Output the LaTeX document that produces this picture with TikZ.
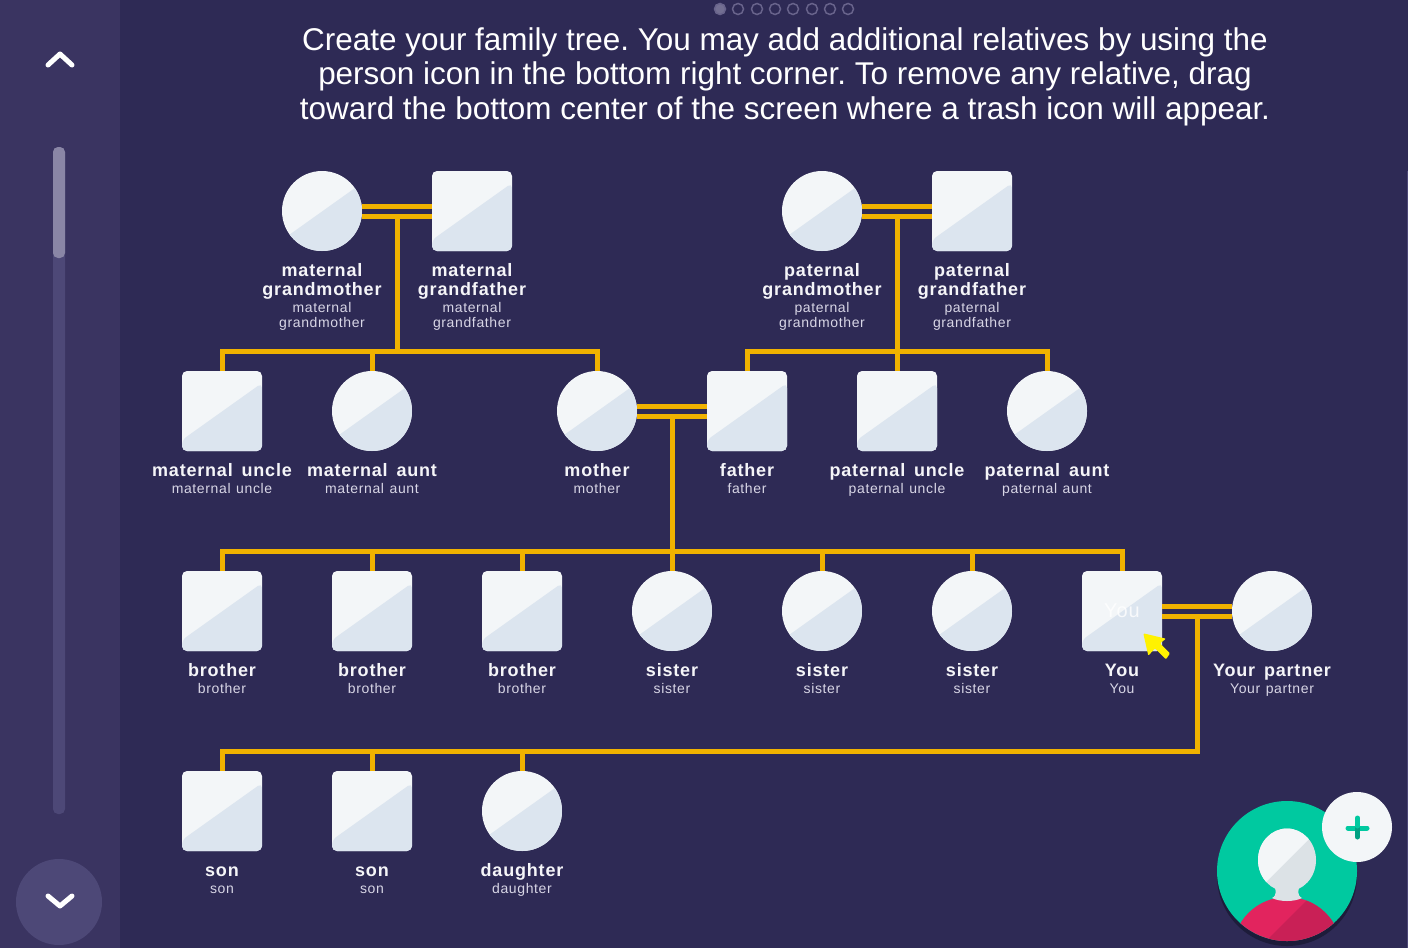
\documentclass[tikz,border=0pt]{standalone}
\usepackage{xcolor}
\usepackage{fontspec}
\usepackage{tikz}
\usetikzlibrary{positioning, calc}
\setmainfont{Liberation Sans}
\newfontfamily\labfamily[LetterSpace=4.5]{Liberation Sans}
\definecolor{pagebg}{RGB}{46, 42, 85}
\definecolor{sidebg}{RGB}{58, 52, 97}
\definecolor{scrolltrack}{RGB}{77, 72, 119}
\definecolor{scrollthumb}{RGB}{138, 134, 166}
\definecolor{linegold}{RGB}{240, 178, 0}
\definecolor{cardlight}{RGB}{243, 246, 248}
\definecolor{carddark}{RGB}{220, 229, 239}
\definecolor{labname}{RGB}{245, 245, 248}
\definecolor{labsub}{RGB}{216, 214, 230}
\definecolor{avatargreen}{RGB}{0, 201, 160}
\definecolor{avatardeep}{RGB}{0, 160, 130}
\definecolor{avatarshadow}{RGB}{29, 28, 58}
\definecolor{shirtred}{RGB}{226, 36, 94}
\definecolor{shirtdeep}{RGB}{201, 32, 86}
\definecolor{headdark}{RGB}{220, 226, 230}
\frenchspacing
\newcommand{\perslab}[1]{{\bfseries\fontsize{18}{19}\selectfont\spaceskip=8.8pt\rule{0pt}{18pt}#1\par}\vspace*{2pt}{\fontsize{14}{15}\selectfont\spaceskip=5.6pt\color{labsub} #1\par}}

\begin{document}
\begin{tikzpicture}[
    x=1pt, y=-1pt,
    halfcard/.style={draw=none, inner sep=0pt, outer sep=0pt, minimum size=80pt, fill=cardlight,
                path picture={\fill[carddark] ([shift={(-40pt,-29pt)}]path picture bounding box.center)
                -- ([shift={(40pt,28pt)}]path picture bounding box.center)
                -- ([shift={(40pt,-40pt)}]path picture bounding box.center)
                -- ([shift={(-40pt,-40pt)}]path picture bounding box.center) -- cycle;}},
    man/.style={halfcard, rectangle, rounded corners=5pt},
    woman/.style={halfcard, circle},
    lab/.style={text width=200pt, align=center, inner sep=0pt, text=labname, font=\labfamily},
    link/.style={linegold, line width=5pt},
    dotring/.style={circle, draw=scrolltrack!85!white, line width=1.5pt, minimum size=11pt, inner sep=0pt},
    chevron/.style={white, line width=5pt, line cap=round, line join=round}
]
\useasboundingbox (0,0) rectangle (1408,948);
\fill[pagebg] (0,0) rectangle (1408,948);
\fill[scrolltrack] (1407,171) rectangle (1408,948);

% Side panel
\fill[sidebg] (0,0) rectangle (120,948);
\fill[scrolltrack, rounded corners=5pt] (53,147) rectangle (65,814);
\fill[scrollthumb, rounded corners=5pt] (53,147) rectangle (65,258);
\node[circle, fill=scrolltrack, minimum size=86pt, inner sep=0pt] (downbtn) at (59,902) {};
\draw[chevron] (48,65) -- (60,54) -- (72,65);
\draw[chevron] (48,896) -- (60,906) -- (72,896);

% Page dots
\node[dotring, fill=scrollthumb!75!pagebg] (dota) at (720,9) {};
\foreach \dotx/\dotname in {738/dotb, 757/dotc, 775/dotd, 793/dote, 812/dotf, 830/dotg, 848/doth}
    \node[dotring] (\dotname) at (\dotx,9) {};

% Heading
\node[text=white, align=center, font=\fontsize{31.45}{34.5}\selectfont] (heading) at (785,76.5)
    {Create your family tree. You may add additional relatives by using the\\
     person icon in the bottom right corner. To remove any relative, drag\\
     toward the bottom center of the screen where a trash icon will appear.};

% Grandparents
\node[woman] (mgm) at (322,211) {};
\node[man, right=70pt of mgm] (mgf) {};
\node[woman] (pgm) at (822,211) {};
\node[man, right=70pt of pgm] (pgf) {};

% Parents row
\node[man] (muncle) at (222,411) {};
\node[woman, right=70pt of muncle] (maunt) {};
\node[woman, right=145pt of maunt] (mother) {};
\node[man, right=70pt of mother] (father) {};
\node[man, right=70pt of father] (puncle) {};
\node[woman, right=70pt of puncle] (paunt) {};

% Siblings row
\node[man] (broa) at (222,611) {};
\node[man, right=70pt of broa] (brob) {};
\node[man, right=70pt of brob] (broc) {};
\node[woman, right=70pt of broc] (sisa) {};
\node[woman, right=70pt of sisa] (sisb) {};
\node[woman, right=70pt of sisb] (sisc) {};
\node[man, right=70pt of sisc] (you) {};
\node[woman, right=70pt of you] (partner) {};
\node[text=white, opacity=0.8, font=\labfamily\fontsize{20}{20}\selectfont] (youtag) at (you) {You};

% Children row
\node[man] (sona) at (222,811) {};
\node[man, right=70pt of sona] (sonb) {};
\node[woman, right=70pt of sonb] (daughter) {};

% Labels
\foreach \who/\txt in {mgm/maternal\\grandmother, mgf/maternal\\grandfather,
    pgm/paternal\\grandmother, pgf/paternal\\grandfather,
    muncle/maternal uncle, maunt/maternal aunt, mother/mother, father/father,
    puncle/paternal uncle, paunt/paternal aunt,
    broa/brother, brob/brother, broc/brother, sisa/sister, sisb/sister, sisc/sister,
    you/You, partner/Your partner, sona/son, sonb/son, daughter/daughter}
    \node[lab, below=7pt of \who] (\who lab) {\perslab{\txt}};

% Couples
\draw[link] ([yshift=5pt]mgm.east) -- ([yshift=5pt]mgf.west);
\draw[link] ([yshift=-5pt]mgm.east) -- ([yshift=-5pt]mgf.west);
\draw[link] ([yshift=5pt]pgm.east) -- ([yshift=5pt]pgf.west);
\draw[link] ([yshift=-5pt]pgm.east) -- ([yshift=-5pt]pgf.west);
\draw[link] ([yshift=5pt]mother.east) -- ([yshift=5pt]father.west);
\draw[link] ([yshift=-5pt]mother.east) -- ([yshift=-5pt]father.west);
\draw[link] ([yshift=5pt]you.east) -- ([yshift=5pt]partner.west);
\draw[link] ([yshift=-5pt]you.east) -- ([yshift=-5pt]partner.west);

% Family lines
\coordinate (mbar) at (397,351);
\coordinate (pbar) at (897,351);
\coordinate (sibbar) at (672,551);
\coordinate (kidbar) at (1197,751);
\draw[link] (mbar |- mgm.south) ++(0,-35) -- (mbar);
\draw[link] (muncle.north) |- (mbar) -| (mother.north);
\draw[link] (maunt.north) -- (maunt.north |- mbar);
\draw[link] (pbar |- pgm.south) ++(0,-35) -- (puncle.north);
\draw[link] (father.north) |- (pbar) -| (paunt.north);
\draw[link] (sibbar |- mother.south) ++(0,-35) -- (sisa.north);
\draw[link] (broa.north) |- (sibbar) -| (you.north);
\draw[link] (brob.north) -- (brob.north |- sibbar);
\draw[link] (broc.north) -- (broc.north |- sibbar);
\draw[link] (sisb.north) -- (sisb.north |- sibbar);
\draw[link] (sisc.north) -- (sisc.north |- sibbar);
\draw[link] (kidbar |- you.south) ++(0,-35) -- (kidbar) -- (kidbar -| sona.north) -- (sona.north);
\draw[link] (sonb.north) -- (sonb.north |- kidbar);
\draw[link] (daughter.north) -- (daughter.north |- kidbar);

% Pointer
\fill[yellow, rounded corners=1pt] (1143.3,633.3) -- (1166,638.7) -- (1160,643.3) -- (1170,653.3)
    -- (1166,659.3) -- (1155,648.3) -- (1148.3,655.7) -- cycle;

% Add person button
\fill[avatarshadow] (1287,876) circle (70);
\fill[avatargreen] (1287,871) circle (70);
\begin{scope}
\clip (1287,871) circle (70);
\fill[shirtred] (1287,950) ellipse (54 and 53);
\begin{scope}
\clip (1287,950) ellipse (54 and 53);
\fill[shirtdeep] (1312,895) -- (1350,895) -- (1350,950) -- (1257,950) -- cycle;
\end{scope}
\end{scope}
\fill[headdark] (1275,888) .. controls (1277,895) and (1274,897) .. (1272,898)
    .. controls (1280,902) and (1294,902) .. (1302,898)
    .. controls (1300,897) and (1297,895) .. (1299,888) -- cycle;
\fill[headdark] (1287,860) ellipse (29 and 31.5);
\begin{scope}
\clip (1287,860) ellipse (29 and 31.5);
\fill[cardlight] (1250,898) -- (1310,838) -- (1310,820) -- (1250,820) -- cycle;
\end{scope}
\node[circle, fill=cardlight, minimum size=70pt, inner sep=0pt] (addbtn) at (1357,827) {};
\draw[avatargreen, line width=5pt, line cap=round] (1348,828) -- (1367,828);
\draw[avatardeep, line width=5pt, line cap=round] (1357.5,828) -- (1357.5,837);
\draw[avatargreen, line width=5pt, line cap=round] (1357.5,818) -- (1357.5,826);

\end{tikzpicture}
\end{document}
